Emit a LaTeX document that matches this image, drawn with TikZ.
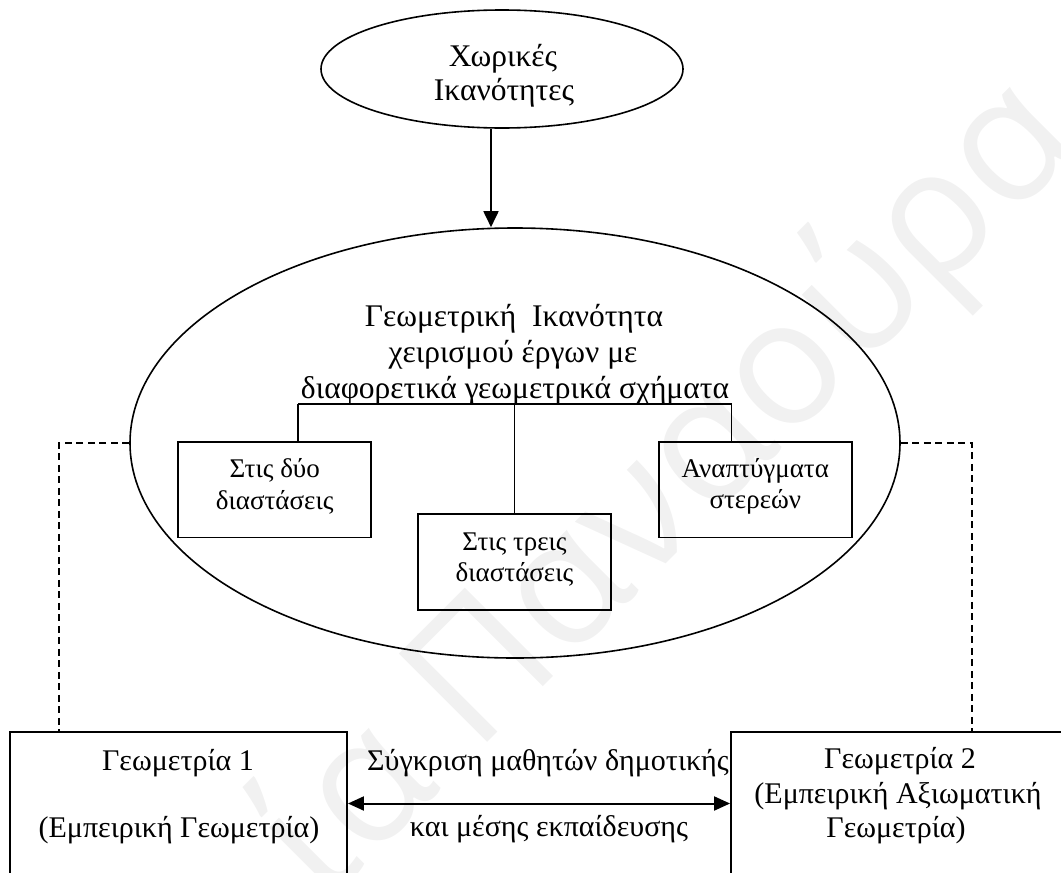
\documentclass[tikz,border=0pt]{standalone}
\usepackage{fontspec}
\setmainfont{Liberation Serif}
\newfontfamily\wmfont{Open Sans}
\usetikzlibrary{shapes.geometric,arrows.meta}
\definecolor{wm}{gray}{0.945}
\newcommand\fsTop{\fontsize{31.5}{36}\selectfont}
\newcommand\fsMid{\fontsize{31.5}{36}\selectfont}
\newcommand\fsBox{\fontsize{27}{32}\selectfont}
\newcommand\fsLow{\fontsize{30}{33}\selectfont}
\begin{document}
\begin{tikzpicture}[x=1pt,y=-1pt,
  line width=1.8pt,
  oval/.style={ellipse, draw, line width=1.6pt, inner sep=0pt},
  box/.style={draw, rectangle, line width=1.9pt, inner sep=0pt},
  txt/.style={anchor=base, inner sep=0pt},
  dashlink/.style={line width=1.4pt, dash pattern=on 7pt off 4.5pt},
  tipA/.style={-{Triangle[length=16pt,width=15pt]}},
  tipB/.style={line width=2pt, {Triangle[length=16pt,width=14pt]}-{Triangle[length=16pt,width=14pt]}},
]
\useasboundingbox (0,0) rectangle (1061,873);
\clip (0,0) rectangle (1061,873);

% faint background watermark
\node[anchor=base west, rotate=45, inner sep=0pt, text=wm,
      font=\wmfont\fontsize{175}{175}\selectfont] (mark) at (325,905) {ία Παναούρα};

% top ellipse
\node[oval, minimum width=362, minimum height=118] (spatial) at (502,69) {};
\node[txt, font=\fsTop] (sp1) at (503,66.7) {Χωρικές};
\node[txt, font=\fsTop] (sp2) at (504,100) {Ικανότητες};

% main ellipse
\node[oval, minimum width=770, minimum height=430] (ability) at (515,443) {};
\node[txt, font=\fsMid] (ab1) at (514,326.5) {Γεωμετρική\ \ Ικανότητα};
\node[txt, font=\fsMid] (ab2) at (513,362) {χειρισμού έργων με};
\node[txt, font=\fsMid] (ab3) at (515,398.3) {διαφορετικά γεωμετρικά σχήματα};

% three sub-boxes
\node[box, minimum width=192.7, minimum height=95.8] (two) at (274.7,489.6) {};
\node[txt, font=\fsBox] (tw1) at (274.7,477.3) {Στις δύο};
\node[txt, font=\fsBox] (tw2) at (274.7,509.3) {διαστάσεις};

\node[box, minimum width=193, minimum height=96] (three) at (514.5,562) {};
\node[txt, font=\fsBox] (th1) at (514.5,550) {Στις τρεις};
\node[txt, font=\fsBox] (th2) at (514.5,581.7) {διαστάσεις};

\node[box, minimum width=192.7, minimum height=95.8] (nets) at (755.3,489.6) {};
\node[txt, font=\fsBox] (nt1) at (755.3,477.7) {Αναπτύγματα};
\node[txt, font=\fsBox] (nt2) at (755.3,508) {στερεών};

% bottom boxes
\node[box, minimum width=337, minimum height=143] (geo1) at (178.5,803.5) {};
\node[txt, font=\fsLow] (g11) at (178,770) {Γεωμετρία 1};
\node[txt, font=\fsLow] (g12) at (179,837) {(Εμπειρική Γεωμετρία)};

\node[box, minimum width=334, minimum height=143] (geo2) at (898,803.5) {};
\node[txt, font=\fsLow] (g21) at (900,768.5) {Γεωμετρία 2};
\node[txt, font=\fsLow] (g22) at (898,803) {(Εμπειρική Αξιωματική};
\node[txt, font=\fsLow] (g23) at (896,837) {Γεωμετρία)};

% comparison label
\node[txt, font=\fsLow] (cmp1) at (548,770) {Σύγκριση μαθητών δημοτικής};
\node[txt, font=\fsLow] (cmp2) at (549,836.7) {και μέσης εκπαίδευσης};

% connectors
\coordinate (ax) at (491,0);
\draw[tipA] (spatial.south -| ax) -- (ability.north -| ax);

\coordinate (barL) at (298,404);
\coordinate (barR) at (731.5,404);
\draw (barL) -- (barR);
\draw (barL) -- (barL |- two.north);
\draw (three.north) -- (three.north |- barL);
\draw (barR) -- (barR |- nets.north);

\coordinate (dl) at (59,443);
\coordinate (dr) at (972,443);
\draw[dashlink] (ability.west) -- (dl) -- (dl |- geo1.north);
\draw[dashlink] (ability.east) -- (dr) -- (dr |- geo2.north);

\draw[tipB] (geo1.east) -- (geo2.west);
\end{tikzpicture}
\end{document}
